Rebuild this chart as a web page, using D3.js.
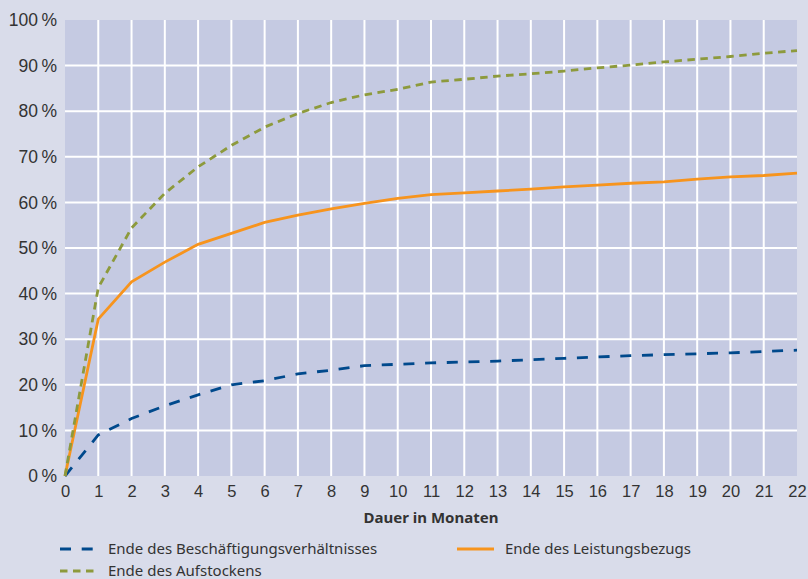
<!DOCTYPE html>
<html>
<head>
<meta charset="utf-8">
<script src="https://cdn.jsdelivr.net/npm/d3@7"></script>
<style>
  body { margin: 0; background: #d9dcea; }
  svg { display: block; font-family: "Noto Sans", sans-serif; }
</style>
</head>
<body>
<svg id="chart"></svg>
<script>
var width = 808,
  height = 579,
  margin = {top: 20, right: 11, bottom: 103, left: 65};

// share of people in %, by month 0..22
var months = d3.range(0, 23);
var series = [
  {
    name: "Ende des Beschäftigungsverhältnisses",
    color: "#00498c",
    dash: "11,10.7",
    values: [0, 9.0, 12.6, 15.4, 17.8, 20.0, 20.9, 22.4, 23.2, 24.2, 24.5, 24.8, 25.0, 25.2, 25.5, 25.8, 26.1, 26.4, 26.6, 26.8, 27.0, 27.3, 27.6]
  },
  {
    name: "Ende des Leistungsbezugs",
    color: "#f7941d",
    dash: null,
    values: [0, 34.4, 42.6, 46.9, 50.8, 53.2, 55.6, 57.2, 58.6, 59.8, 60.9, 61.7, 62.1, 62.5, 62.9, 63.4, 63.8, 64.2, 64.5, 65.1, 65.6, 65.9, 66.4]
  },
  {
    name: "Ende des Aufstockens",
    color: "#8d9a3c",
    dash: "7.5,5.5",
    values: [0, 41.3, 54.4, 62.0, 67.8, 72.5, 76.5, 79.5, 81.9, 83.6, 84.8, 86.4, 87.0, 87.7, 88.2, 88.8, 89.5, 90.1, 90.8, 91.4, 92.0, 92.7, 93.3]
  }
];

var svg = d3.select("#chart")
  .attr("width", width)
  .attr("height", height);

var x = d3.scaleLinear()
  .domain([0, 22])
  .range([margin.left, width - margin.right]);

var y = d3.scaleLinear()
  .domain([0, 100])
  .range([height - margin.bottom, margin.top]);

svg.append("rect")
  .attr("x", x(0))
  .attr("y", y(100))
  .attr("width", x(22) - x(0))
  .attr("height", y(0) - y(100))
  .attr("fill", "#c5cae2");

// grid
svg.append("g")
  .selectAll("line")
  .data(d3.range(1, 22))
  .join("line")
  .attr("x1", d => x(d)).attr("x2", d => x(d))
  .attr("y1", y(0)).attr("y2", y(100))
  .attr("stroke", "#fff")
  .attr("stroke-width", 2);

svg.append("g")
  .selectAll("line")
  .data(d3.range(10, 100, 10))
  .join("line")
  .attr("x1", x(0)).attr("x2", x(22))
  .attr("y1", d => y(d)).attr("y2", d => y(d))
  .attr("stroke", "#fff")
  .attr("stroke-width", 2);

// axes
var xAxis = svg.append("g")
  .attr("transform", "translate(0," + y(0) + ")")
  .call(d3.axisBottom(x).tickValues(months).tickSize(0).tickPadding(9).tickFormat(d3.format("d")));
xAxis.select(".domain").remove();
xAxis.selectAll("text")
  .attr("fill", "#333")
  .style("font-size", "16.5px");

var yAxis = svg.append("g")
  .attr("transform", "translate(" + (x(0) - 8) + ",0)")
  .call(d3.axisLeft(y).tickValues(d3.range(0, 101, 10)).tickSize(0).tickPadding(0).tickFormat(d => d + "\u2009%"));
yAxis.select(".domain").remove();
yAxis.selectAll("text")
  .attr("fill", "#333")
  .style("font-size", "17.5px");

svg.append("text")
  .attr("x", (x(0) + x(22)) / 2)
  .attr("y", y(0) + 47)
  .attr("text-anchor", "middle")
  .attr("fill", "#333")
  .style("font-size", "15px")
  .style("font-weight", "bold")
  .text("Dauer in Monaten");

// lines
var line = d3.line()
  .x((d, i) => x(months[i]))
  .y(d => y(d));

svg.append("g")
  .selectAll("path")
  .data(series)
  .join("path")
  .attr("d", d => line(d.values))
  .attr("fill", "none")
  .attr("stroke", d => d.color)
  .attr("stroke-width", 2.8)
  .attr("stroke-dasharray", d => d.dash);

// legend
var legendPos = [[60, 549], [457, 549], [60, 571]];
var legend = svg.append("g")
  .selectAll("g")
  .data(series)
  .join("g")
  .attr("transform", (d, i) => "translate(" + legendPos[i][0] + "," + legendPos[i][1] + ")");

legend.append("line")
  .attr("x1", 0).attr("x2", 37)
  .attr("stroke", d => d.color)
  .attr("stroke-width", 2.8)
  .attr("stroke-dasharray", d => d.dash);

legend.append("text")
  .attr("x", 48)
  .attr("dy", "0.35em")
  .attr("fill", "#333")
  .style("font-size", "15px")
  .text(d => d.name);
</script>
</body>
</html>
